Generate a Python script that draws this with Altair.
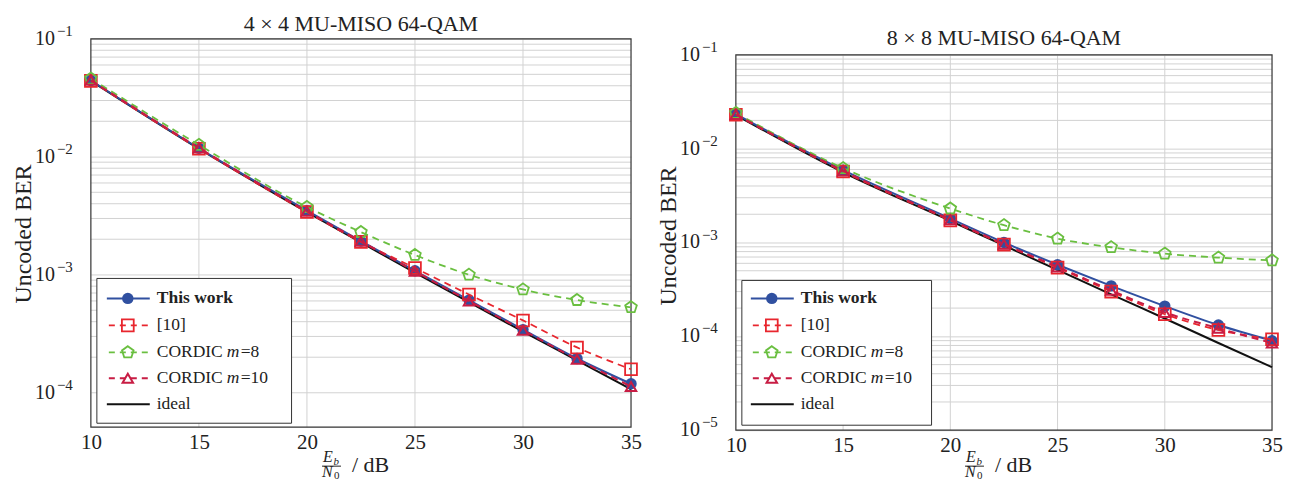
import altair as alt
import pandas as pd

SNR = [10, 15, 20, 22.5, 25, 27.5, 30, 32.5, 35]
X_TICKS = [10, 15, 20, 25, 30, 35]
X_GRID = [15, 20, 25, 30]

# 4x4 panel
L_THIS = [0.0443, 0.0118, 3.50e-3, 1.93e-3, 1.08e-3, 6.10e-4, 3.43e-4, 1.95e-4, 1.19e-4]
L_REF10 = [0.0440, 0.0117, 3.40e-3, 1.90e-3, 1.14e-3, 6.80e-4, 4.10e-4, 2.42e-4, 1.58e-4]
L_M8 = [0.0460, 0.0126, 3.75e-3, 2.30e-3, 1.47e-3, 1.00e-3, 7.50e-4, 6.10e-4, 5.30e-4]
L_M10 = [0.0445, 0.0119, 3.45e-3, 1.92e-3, 1.07e-3, 6.00e-4, 3.38e-4, 1.92e-4, 1.13e-4]
L_IDEAL = [0.0440, 0.0117, 3.40e-3, 1.88e-3, 1.04e-3, 5.85e-4, 3.30e-4, 1.88e-4, 1.07e-4]

# 8x8 panel
R_THIS = [0.0233, 5.9e-3, 1.80e-3, 1.00e-3, 5.80e-4, 3.45e-4, 2.10e-4, 1.32e-4, 9.0e-5]
R_REF10 = [0.0230, 5.7e-3, 1.72e-3, 9.5e-4, 5.4e-4, 3.0e-4, 1.72e-4, 1.17e-4, 9.3e-5]
R_M8 = [0.0240, 6.2e-3, 2.30e-3, 1.53e-3, 1.10e-3, 8.9e-4, 7.6e-4, 6.9e-4, 6.45e-4]
R_M10 = [0.0232, 5.8e-3, 1.75e-3, 9.6e-4, 5.5e-4, 3.1e-4, 1.8e-4, 1.22e-4, 8.5e-5]
R_IDEAL = [0.0228, 5.6e-3, 1.70e-3, 9.3e-4, 5.1e-4, 2.8e-4, 1.55e-4, 8.5e-5, 4.7e-5]

DECADES_L = [1e-4, 1e-3, 1e-2, 1e-1]
SUP_L = ["\u22124", "\u22123", "\u22122", "\u22121"]
DECADES_R = [1e-5, 1e-4, 1e-3, 1e-2, 1e-1]
SUP_R = ["\u22125", "\u22124", "\u22123", "\u22122", "\u22121"]
MINOR_MULT = [2, 3, 4, 5, 6, 7, 8, 9]

FONT = "Liberation Serif"
TXT = "#222222"
GRID = "#d2d2d2"
PENTAGON = "M0,-1L0.951,-0.309L0.588,0.809L-0.588,0.809L-0.951,-0.309Z"

STYLES = {
    "This work": dict(color="#3050a0", dash=None, shape="circle", filled=True, size=130, sw=2),
    "[10]": dict(color="#e8262e", dash=[7, 5], shape="square", filled=False, size=140, sw=1.8),
    "CORDIC m=8": dict(color="#6abf40", dash=[7, 5], shape=PENTAGON, filled=False, size=150, sw=1.8),
    "CORDIC m=10": dict(color="#c81d44", dash=[7, 5], shape="triangle-up", filled=False, size=110, sw=2),
    "ideal": dict(color="#111111", dash=None, shape=None, filled=False, size=0, sw=2),
}
LEGEND_ORDER = ["This work", "[10]", "CORDIC m=8", "CORDIC m=10", "ideal"]
DRAW_ORDER = ["ideal", "This work", "[10]", "CORDIC m=8", "CORDIC m=10"]

ONE = pd.DataFrame({"k": [0]})


def panel(series, title, ydom, decades, sups, width, height, top, leg, ytitle_y, tgap, fy):
    H = top + height
    X = alt.X("snr:Q", scale=alt.Scale(domain=[10, 35], nice=False, zero=False),
              axis=alt.Axis(values=X_TICKS, grid=False,
                            ticks=False, domain=False, labelFont=FONT, labelFontSize=21,
                            labelColor=TXT, labelPadding=4, labelFlush=False, title=None))
    Y = alt.Y("ber:Q", scale=alt.Scale(type="log", domain=ydom, nice=False, range=[H, top]),
              axis=alt.Axis(values=decades, grid=True, gridColor=GRID, gridWidth=1,
                            ticks=False, domain=False, labels=False,
                            title="Uncoded BER", titleFont=FONT, titleFontSize=24,
                            titleFontWeight="normal", titleColor=TXT, titlePadding=55,
                            titleY=ytitle_y))
    layers = []
    minors = [m * d for d in [1e-6] + decades for m in MINOR_MULT
              if ydom[0] < m * d < ydom[1]]
    layers.append(alt.Chart(pd.DataFrame({"ber": minors})).mark_rule(
        color=GRID, strokeWidth=1).encode(y=Y))
    layers.append(alt.Chart(pd.DataFrame({"snr": X_GRID})).mark_rule(
        color=GRID, strokeWidth=1).encode(x=X, y=alt.value(top), y2=alt.value(H)))
    # frame
    layers.append(alt.Chart(ONE).mark_rect(fillOpacity=0, stroke="#333333", strokeWidth=1.2).encode(
        x=alt.value(0), x2=alt.value(width), y=alt.value(top), y2=alt.value(H)))
    for name in DRAW_ORDER:
        st = STYLES[name]
        df = pd.DataFrame({"snr": SNR, "ber": series[name]})
        lk = dict(color=st["color"], strokeWidth=st["sw"], interpolate="monotone")
        if st["dash"]:
            lk["strokeDash"] = st["dash"]
        layers.append(alt.Chart(df).mark_line(**lk).encode(x=X, y=Y))
        if st["shape"]:
            layers.append(alt.Chart(df).mark_point(
                shape=st["shape"], filled=st["filled"], size=st["size"], color=st["color"],
                strokeWidth=st["sw"], opacity=1).encode(x=X, y=Y))

    # y tick labels 10^k
    lab = pd.DataFrame({"ber": decades, "sup": sups})
    layers.append(alt.Chart(lab).mark_text(align="right", baseline="middle", font=FONT,
                                           fontSize=20, color=TXT).encode(
        x=alt.value(-36), y=Y, text=alt.value("10")))
    layers.append(alt.Chart(lab).mark_text(align="left", baseline="middle", font=FONT,
                                           fontSize=15, color=TXT, dy=-8).encode(
        x=alt.value(-34), y=Y, text="sup:N"))

    # title
    layers.append(alt.Chart(ONE).mark_text(align="center", baseline="alphabetic", font=FONT,
                                           fontSize=22, color=TXT).encode(
        x=alt.value(width / 2), y=alt.value(top - tgap), text=alt.value(title)))

    # legend
    bx0, bx1, by0, by1, rows, lx0, lx1, mx, tx = leg
    layers.append(alt.Chart(ONE).mark_rect(fill="white", stroke="#333333", strokeWidth=1).encode(
        x=alt.value(bx0), x2=alt.value(bx1), y=alt.value(top + by0), y2=alt.value(top + by1)))
    for i, name in enumerate(LEGEND_ORDER):
        st = STYLES[name]
        yy = top + rows[i]
        rk = dict(color=st["color"], strokeWidth=st["sw"])
        if st["dash"]:
            rk["strokeDash"] = [6, 5]
            rk["strokeDashOffset"] = -2
        layers.append(alt.Chart(ONE).mark_rule(**rk).encode(
            x=alt.value(lx0), x2=alt.value(lx1), y=alt.value(yy)))
        if st["shape"]:
            layers.append(alt.Chart(ONE).mark_point(
                shape=st["shape"], filled=st["filled"], size=st["size"], color=st["color"],
                strokeWidth=st["sw"], opacity=1).encode(x=alt.value(mx), y=alt.value(yy)))
        if name.startswith("CORDIC"):
            pieces = [("CORDIC", 0, "normal"), ("m", 70, "italic"),
                      ("=" + name.split("=")[1], 84, "normal")]
        elif name == "This work":
            pieces = [(name, 0, "bold")]
        else:
            pieces = [(name, 0, "normal")]
        for txt, off, sty in pieces:
            kw = dict(align="left", baseline="middle", font=FONT, fontSize=17.5, color=TXT)
            if sty == "bold":
                kw["fontWeight"] = "bold"
            if sty == "italic":
                kw["fontStyle"] = "italic"
            layers.append(alt.Chart(ONE).mark_text(**kw).encode(
                x=alt.value(tx + off), y=alt.value(yy), text=alt.value(txt)))

    # x-axis title: Eb/N0 / dB
    cx = width / 2 - 38
    B = H + fy

    def t(txt, x, y, size, style="italic"):
        kw = dict(align="left", baseline="alphabetic", font=FONT, fontSize=size, color=TXT)
        if style == "italic":
            kw["fontStyle"] = "italic"
        return alt.Chart(ONE).mark_text(**kw).encode(
            x=alt.value(x), y=alt.value(y), text=alt.value(txt))
    layers.append(t("E", cx, B + 35, 16))
    layers.append(t("b", cx + 10.5, B + 38, 11))
    layers.append(alt.Chart(ONE).mark_rule(color=TXT, strokeWidth=1).encode(
        x=alt.value(cx - 1), x2=alt.value(cx + 18), y=alt.value(B + 39)))
    layers.append(t("N", cx - 1, B + 50, 16))
    layers.append(t("0", cx + 11, B + 52, 11, style="normal"))
    layers.append(t("/ dB", cx + 29, B + 45, 22, style="normal"))

    return alt.layer(*layers).properties(width=width, height=H)


left_series = {"This work": L_THIS, "[10]": L_REF10, "CORDIC m=8": L_M8,
               "CORDIC m=10": L_M10, "ideal": L_IDEAL}
right_series = {"This work": R_THIS, "[10]": R_REF10, "CORDIC m=8": R_M8,
                "CORDIC m=10": R_M10, "ideal": R_IDEAL}

left = panel(left_series, "4 \u00d7 4 MU-MISO 64-QAM", [5.1e-5, 0.1], DECADES_L, SUP_L,
             541, 389, 28,
             (6, 201, 240, 385, [260, 287, 314, 340, 366], 16, 59, 37, 66), 223, 8, 0)
right = panel(right_series, "8 \u00d7 8 MU-MISO 64-QAM", [1e-5, 0.1], DECADES_R, SUP_R,
              537, 376, 44,
              (6, 196, 226, 371, [244, 271, 298, 324, 350], 15, 58, 36, 65), 225, 10, -3)

chart = alt.hconcat(left, right, spacing=15).properties(
    padding={"left": 4, "top": 2.5, "right": 5, "bottom": 0}
).configure_view(stroke=None)

chart.save("out.html", embed_options={"renderer": "svg", "actions": False})
